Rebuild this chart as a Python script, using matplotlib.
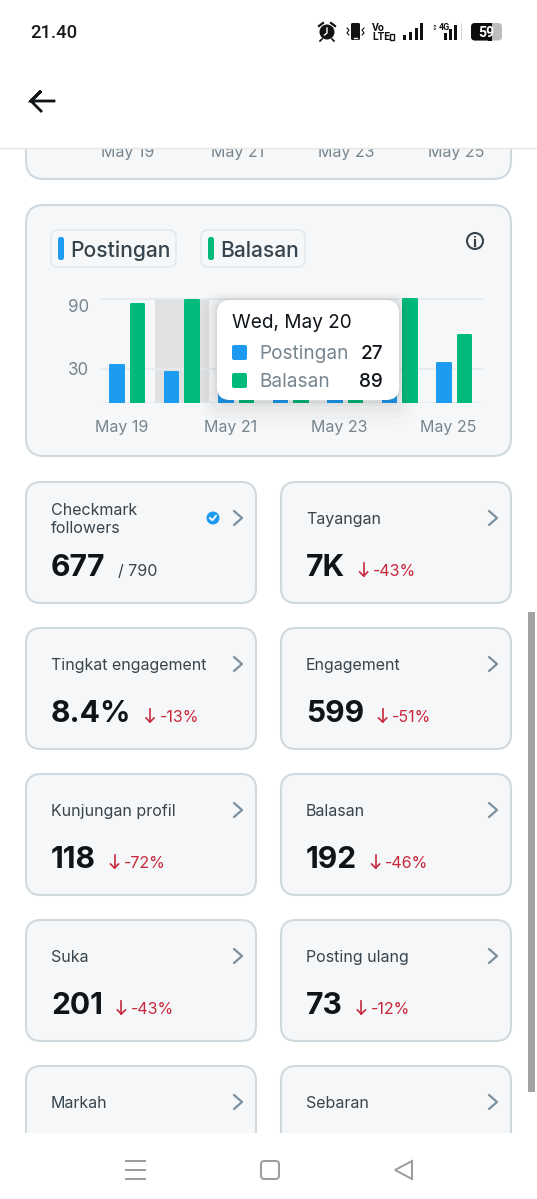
import matplotlib
matplotlib.use("Agg")
import matplotlib.pyplot as plt
from matplotlib.patches import FancyBboxPatch, Rectangle, Circle, Polygon

plt.rcParams['font.family'] = ['Inter', 'DejaVu Sans']

# ---- data ----
days = ["May 19", "May 20", "May 21", "May 22", "May 23", "May 24", "May 25"]
postingan = [33, 27, 24, 18, 15, 30, 35]
balasan = [86, 89, 40, 30, 22, 90, 59]
y_ticks = [0, 30, 90]
y_labels = ["", "30", "90"]
x_tick_days = [0, 2, 4, 6]
top_card_labels = ["May 19", "May 21", "May 23", "May 25"]
tooltip_title = "Wed, May 20"
series_names = ["Postingan", "Balasan"]
card_titles = ["Checkmark\nfollowers", "Tayangan", "Tingkat engagement", "Engagement",
               "Kunjungan profil", "Balasan", "Suka", "Posting ulang", "Markah", "Sebaran"]
card_values = ["677", "7K", "8.4%", "599", "118", "192", "201", "73", "", ""]
card_deltas = ["/ 790", "-43%", "-13%", "-51%", "-72%", "-46%", "-43%", "-12%", "", ""]

W, H = 537, 1199
BLUE, GREEN = "#1d9bf0", "#00ba7c"
CARD, EDGE = "#f5f7f8", "#cfd9de"
INK, SLATE, GREY = "#0f1419", "#38444d", "#77858f"
RED = "#c8283c"
px = 0.72  # points per pixel at dpi 100

fig = plt.figure(figsize=(W / 100, H / 100), dpi=100, facecolor="white")

def layer(z):
    a = fig.add_axes([0, 0, 1, 1], zorder=z)
    a.set_xlim(0, W); a.set_ylim(H, 0); a.axis("off"); a.patch.set_alpha(0)
    return a

bg = layer(0)
fg = layer(2)

def rbox(a, x0, y0, x1, y1, r, fc, ec="none", lw=1.5, z=1, alpha=None):
    a.add_patch(FancyBboxPatch((x0 + r, y0 + r), x1 - x0 - 2 * r, y1 - y0 - 2 * r,
                               boxstyle=f"round,pad={r},rounding_size={r}",
                               fc=fc, ec=ec, lw=lw, zorder=z, alpha=alpha))

def chevron(a, x, y):
    a.plot([x - 4, x + 4, x - 4], [y - 7, y, y + 7], color="#7d8f9c", lw=1.6, zorder=3,
           solid_capstyle="round", solid_joinstyle="round")

# ---- upper partly scrolled card ----
rbox(bg, 26, 60, 511, 179, 18, CARD, EDGE)
for cx, lab in zip([128, 238, 346.5, 456], top_card_labels):
    bg.text(cx, 153, lab, ha="center", va="center", fontsize=16 * px, color=GREY)

# ---- chart card ----
rbox(bg, 26, 205, 511, 456, 18, CARD, EDGE)
rbox(bg, 51, 230, 176, 267, 7, "#f5f7f8", "#e4e9ec", lw=1.2)
rbox(bg, 201, 230, 305, 267, 7, "#f5f7f8", "#e4e9ec", lw=1.2)
rbox(bg, 58, 237, 64, 260, 2.5, BLUE, z=3)
rbox(bg, 208, 237, 214, 260, 2.5, GREEN, z=3)
bg.text(70, 257, series_names[0], fontsize=21 * px, color=SLATE, va="baseline", fontweight=500)
bg.text(220, 257, series_names[1], fontsize=21 * px, color=SLATE, va="baseline", fontweight=500)
bg.add_patch(Circle((475, 241), 8, fc="none", ec=SLATE, lw=1.5, zorder=3))
bg.plot([475, 475], [240, 245.5], color=SLATE, lw=1.6, zorder=3)
bg.add_patch(Circle((475, 236.8), 1.0, fc=SLATE, ec="none", zorder=3))

# ---- bar chart on its own axes ----
L, R, TOP, BASE = 101, 483, 295, 403.3
ax = fig.add_axes([L / W, 1 - BASE / H, (R - L) / W, (BASE - TOP) / H], zorder=1)
ax.patch.set_alpha(0)
STEP = 54.5
first = 127.2
ax.set_xlim((L - first) / STEP, (R - first) / STEP)
ax.set_ylim(0, (BASE - TOP) / 1.157)
off, bw = 10.3 / STEP, 13.6 / STEP
ax.axvspan(1 - 27 / STEP, 1 + 27 / STEP, ymax=104.1 / (BASE - TOP), color="#dfe1e3", lw=0, zorder=1)
xs = list(range(len(days)))
ax.bar([x - off for x in xs], postingan, bw, color=BLUE, edgecolor=BLUE, lw=1.4, joinstyle="round", zorder=3)
ax.bar([x + off for x in xs], balasan, bw, color=GREEN, edgecolor=GREEN, lw=1.4, joinstyle="round", zorder=3)
for s in ax.spines.values():
    s.set_visible(False)
ax.set_yticks(y_ticks, y_labels)
ax.grid(axis="y", color="#e6eaed", lw=1.2, zorder=0)
ax.tick_params(axis="y", length=0, pad=12 * px, labelsize=17 * px, labelcolor=GREY)
ax.yaxis.get_major_ticks()[2].label1.set_verticalalignment("top")
ax.set_xticks([d - 6 / STEP for d in x_tick_days], [days[d] for d in x_tick_days])
ax.tick_params(axis="x", length=0, pad=17 * px, labelsize=16 * px, labelcolor=GREY)

# ---- tooltip ----
for grow, al in [(16, .012), (12, .018), (8, .025), (4, .03), (2, .03)]:
    rbox(fg, 217 - grow, 300 - grow / 2, 399 + grow, 400 + grow * 1.6, 14 + grow / 2, "black", z=1, alpha=al)
rbox(fg, 217, 300, 399, 400, 13, "white", z=2)
fg.text(232, 328, tooltip_title, fontsize=19 * px, color=INK, va="baseline", zorder=3)
for i, (name, col, series, y) in enumerate(zip(series_names, [BLUE, GREEN], [postingan, balasan], [359, 387])):
    rbox(fg, 232, y - 14, 247, y + 1, 2, col, z=3)
    fg.text(259, y, name, fontsize=19 * px, color=GREY, va="baseline", zorder=3)
    fg.text(383, y, str(series[1]), fontsize=19 * px, color=INK, va="baseline", ha="right", zorder=3, fontweight=500)

# ---- metric cards ----
renderer = fig.canvas.get_renderer()
tops = [482, 628, 774, 920, 1066]
lefts = [(26, 256), (281, 511)]
for i, (title, val, delta) in enumerate(zip(card_titles, card_values, card_deltas)):
    x0, x1 = lefts[i % 2]
    top = tops[i // 2]
    rbox(bg, x0, top, x1, top + 121, 15, CARD, EDGE)
    tx = x0 + 25
    if "\n" in title:
        a, b = title.split("\n")
        bg.text(tx, top + 33, a, fontsize=16 * px, color=SLATE, va="baseline", zorder=3)
        bg.text(tx, top + 51, b, fontsize=16 * px, color=SLATE, va="baseline", zorder=3)
        bg.add_patch(Circle((x0 + 187, top + 36), 6.5, fc=BLUE, ec="none", zorder=3))
        bg.plot([x0 + 184, x0 + 186.3, x0 + 190], [top + 36, top + 38.3, top + 33.8], color="white", lw=1.3, zorder=4)
    else:
        bg.text(tx, top + 42, title, fontsize=16 * px, color=SLATE, va="baseline", zorder=3)
    chevron(bg, x1 - 18, top + 36)
    if not val:
        continue
    t = bg.text(tx, top + 94, val, fontsize=30 * px, color=INK, va="baseline", fontweight="bold", zorder=3)
    end = t.get_window_extent(renderer).x1
    if delta.startswith("/"):
        bg.text(end + 13, top + 94, delta, fontsize=16 * px, color=SLATE, va="baseline", zorder=3)
    else:
        ax_x = end + 18.5
        bg.plot([ax_x, ax_x], [top + 81, top + 94], color=RED, lw=1.2, zorder=3)
        bg.plot([ax_x - 4, ax_x, ax_x + 4], [top + 90, top + 94, top + 90], color=RED, lw=1.2, zorder=3)
        bg.text(ax_x + 9.5, top + 94, delta, fontsize=16 * px, color=RED, va="baseline", zorder=3)

# ---- system chrome drawn over the scrolled content ----
fg.add_patch(Rectangle((0, 0), W, 148, fc="white", ec="none", zorder=5))
fg.plot([0, W], [148, 148], color="#e8e8e8", lw=1, zorder=6)
fg.add_patch(Rectangle((0, 1133), W, H - 1133, fc="white", ec="none", zorder=5))
fg.add_patch(Rectangle((528, 612), 7, 480, fc="#a3a3a3", ec="none", zorder=6))

fg.text(30, 37.5, "21.40", fontsize=18.5 * px, color="#1a1a1a", fontweight=500, zorder=7, family=["Roboto", "DejaVu Sans"])
fg.plot([54, 31, 41, 31, 41], [101, 101, 91, 101, 111], color=INK, lw=2.0, zorder=7, solid_joinstyle="miter")

# status icons
fg.add_patch(Circle((327, 32), 7.5, fc="#111", ec="none", zorder=7))
fg.plot([327, 327, 324.5], [28, 33, 35], color="white", lw=1, zorder=8)
fg.plot([319, 323], [26, 23], color="#111", lw=1.6, zorder=7)
fg.plot([331, 335], [23, 26], color="#111", lw=1.6, zorder=7)
fg.plot([322, 320], [39, 41], color="#111", lw=1.2, zorder=7)
fg.plot([332, 334], [39, 41], color="#111", lw=1.2, zorder=7)
rbox(fg, 351, 23, 360, 40, 1.5, "#111", z=7)
fg.plot([354, 357], [37.5, 37.5], color="white", lw=1, zorder=8)
fg.plot([347, 349, 347, 349], [28, 30, 33, 35], color="#111", lw=.8, zorder=7)
fg.plot([364, 362, 364, 362], [28, 30, 33, 35], color="#111", lw=.8, zorder=7)
fg.text(372, 31, "Vo", fontsize=10.5 * px, fontweight="bold", color="#111", zorder=7, family="Roboto")
fg.text(372, 40.5, "LTE", fontsize=10.5 * px, fontweight="bold", color="#111", zorder=7, family="Roboto")
fg.add_patch(Rectangle((389.5, 34), 4.5, 6, fc="none", ec="#111", lw=1, zorder=7))
for x, h in zip([403, 409, 415, 420], [5, 8, 12, 17]):
    fg.add_patch(Rectangle((x, 40 - h), 2.6, h, fc="#111", ec="none", zorder=7))
fg.text(439, 30, "4G", fontsize=9 * px, fontweight="bold", color="#111", zorder=7, family="Roboto")
fg.text(432, 30, "\u2195", fontsize=7 * px, color="#111", zorder=7, family="DejaVu Sans")
for x, h in zip([444, 449, 454], [7, 11, 15]):
    fg.add_patch(Rectangle((x, 40 - h), 2.6, h, fc="#111", ec="none", zorder=7))
fg.add_patch(Rectangle((460.5, 23), 1.5, 17, fc="#d5d5d5", ec="none", zorder=7))
rbox(fg, 471, 23, 502, 40.5, 4, "#bdbdbd", z=7)
rbox(fg, 471, 23, 492, 40.5, 4, "#0c0c0c", z=7)
fg.add_patch(Rectangle((488, 23), 4, 17.5, fc="#0c0c0c", ec="none", zorder=7))
fg.text(486, 37, "59", ha="center", fontsize=14 * px, fontweight="bold", color="white", zorder=8, family="Roboto")

# nav bar
NAV = "#9b9b9b"
for y in [1161, 1170, 1179]:
    fg.plot([126, 145], [y, y], color=NAV, lw=1.4, zorder=7)
rbox(fg, 261, 1161, 279, 1179, 3.5, "none", NAV, lw=1.4, z=7)
fg.add_patch(Polygon([[412, 1161], [395, 1170], [412, 1179]], closed=True, fc="none", ec=NAV, lw=1.4, zorder=7))

fig.savefig("out.png", dpi=100)
